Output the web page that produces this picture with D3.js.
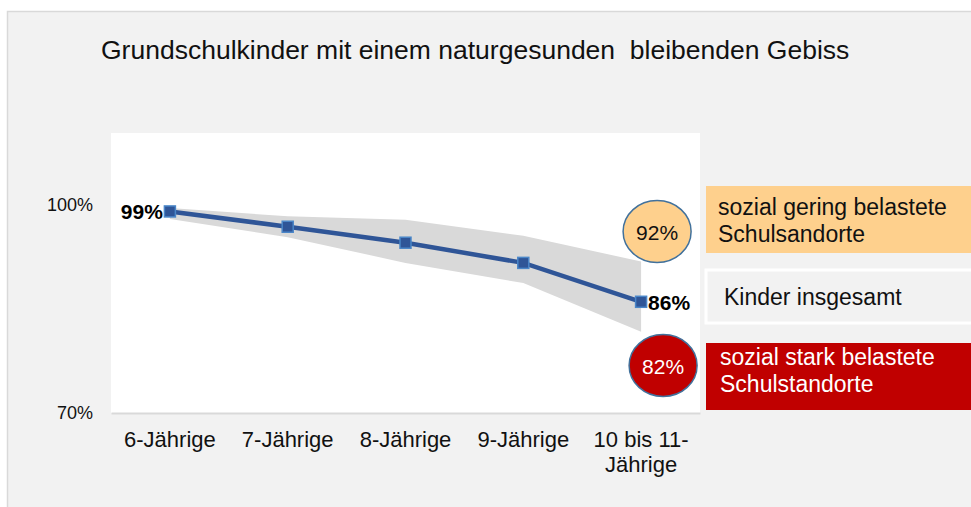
<html>
  <head>
    <meta charset="utf-8">
    <title>Grundschulkinder Gebiss</title>
    <script src="https://cdn.jsdelivr.net/npm/d3@7/dist/d3.min.js" charset="utf-8"></script>
    <style>
      body { margin: 0; background: #fff; }
      svg text { font-family: Arial, "Liberation Sans", sans-serif; }
    </style>
  </head>
  <body>
    <div id="main"></div>
  <script>
    // data
    var categories = ["6-Jährige", "7-Jährige", "8-Jährige", "9-Jährige", "10 bis 11-\nJährige"];
    var gesamt = [99, 96.8, 94.5, 91.6, 86];        // Kinder insgesamt
    var gering = [99.5, 98.3, 97.8, 95.5, 91.8];    // sozial gering belastete (upper edge of band)
    var stark  = [97.9, 95.3, 91.6, 88.7, 81.7];    // sozial stark belastete (lower edge of band)
    var yTicks = [70, 100];
    var endLabels = ["92%", "82%"];
    var legendGering = ["sozial gering belastete", "Schulsandorte"];
    var legendGesamt = ["Kinder insgesamt"];
    var legendStark = ["sozial stark belastete", "Schulstandorte"];
    var title = "Grundschulkinder mit einem naturgesunden  bleibenden Gebiss";

    var svgWidth = 971;
    var svgHeight = 507;

    var svg = d3.select("#main")
          .append("svg")
          .attr("width", svgWidth)
          .attr("height", svgHeight);

    // outer grey panel
    svg.append("rect")
      .attr("x", 7.5).attr("y", 11.5)
      .attr("width", svgWidth).attr("height", svgHeight)
      .style("fill", "#f2f2f2")
      .style("stroke", "#d9d9d9")
      .style("stroke-width", 1.5);

    svg.append("text")
      .attr("x", 101).attr("y", 59)
      .style("font-size", "26.5px")
      .style("fill", "#111")
      .style("white-space", "pre")
      .text(title);

    var x = d3.scaleBand().domain(categories).range([111, 700]);
    var y = d3.scaleLinear().domain([70, 110]).range([413, 135]);
    var cx = function(i) { return x(categories[i]) + x.bandwidth() / 2; };

    // plot area
    svg.append("rect")
      .attr("x", x.range()[0]).attr("y", y(110) - 2)
      .attr("width", x.range()[1] - x.range()[0])
      .attr("height", y(70) - y(110) + 2)
      .style("fill", "#fff");

    // band between the two school groups
    var area = d3.area()
      .x(function(d, i) { return cx(i); })
      .y0(function(d, i) { return y(stark[i]); })
      .y1(function(d) { return y(d); });

    svg.append("path")
      .datum(gering)
      .attr("d", area)
      .style("fill", "#d9d9d9");

    // axes
    var xAxis = svg.append("g")
      .attr("transform", "translate(0," + y(70) + ")")
      .call(d3.axisBottom(x).tickSize(0));
    xAxis.select(".domain").style("stroke", "#d9d9d9").style("stroke-width", 2);
    xAxis.selectAll(".tick text").each(function(d) {
      var t = d3.select(this).text(null).attr("dy", 0).attr("y", 0);
      d.split("\n").forEach(function(line, k) {
        t.append("tspan").attr("x", 0).attr("y", 34 + k * 25).text(line);
      });
    });
    xAxis.selectAll("text").style("font-size", "22px").style("fill", "#111");

    var yAxis = svg.append("g")
      .attr("transform", "translate(96,0)")
      .call(d3.axisLeft(y).tickValues(yTicks).tickSize(0)
        .tickFormat(function(d) { return d + "%"; }));
    yAxis.select(".domain").remove();
    yAxis.selectAll("text").style("font-size", "18px").style("fill", "#111");

    // main line
    var line = d3.line()
      .x(function(d, i) { return cx(i); })
      .y(function(d) { return y(d); });

    svg.append("path")
      .datum(gesamt)
      .attr("d", line)
      .style("fill", "none")
      .style("stroke", "#2f5597")
      .style("stroke-width", 4.5);

    svg.selectAll("rect.marker")
      .data(gesamt)
      .enter()
      .append("rect")
      .attr("class", "marker")
      .attr("x", function(d, i) { return cx(i) - 5.5; })
      .attr("y", function(d) { return y(d) - 5.5; })
      .attr("width", 11).attr("height", 11)
      .style("fill", "#2f5597")
      .style("stroke", "#4a86c8")
      .style("stroke-width", 1.5);

    var last = gesamt.length - 1;
    svg.append("text")
      .attr("x", cx(0) - 7).attr("y", y(gesamt[0]) + 8)
      .attr("text-anchor", "end")
      .style("font-size", "21px").style("font-weight", "bold")
      .text(Math.round(gesamt[0]) + "%");
    svg.append("text")
      .attr("x", cx(last) + 7).attr("y", y(gesamt[last]) + 8)
      .style("font-size", "21px").style("font-weight", "bold")
      .text(Math.round(gesamt[last]) + "%");

    // legend boxes on the right
    function legendBox(yTop, h, fill, stroke, lines, color, tx, baseline) {
      svg.append("rect")
        .attr("x", 706).attr("y", yTop)
        .attr("width", 280).attr("height", h)
        .style("fill", fill)
        .style("stroke", stroke)
        .style("stroke-width", stroke === "none" ? 0 : 3);
      lines.forEach(function(l, k) {
        svg.append("text")
          .attr("x", tx).attr("y", baseline + k * 27)
          .style("font-size", "23px")
          .style("fill", color)
          .text(l);
      });
    }
    legendBox(186, 67, "#fed08d", "none", legendGering, "#111", 718, 215);
    legendBox(270, 53, "#f2f2f2", "#fff", legendGesamt, "#111", 724, 305);
    legendBox(343, 67, "#c00000", "none", legendStark, "#fff", 720, 365);

    // callout ellipses
    var ell = [
      { cx: cx(last) + 16, cy: 231.5, fill: "#fed08d", color: "#111" },
      { cx: cx(last) + 22, cy: 365.5, fill: "#c00000", color: "#fff" }
    ];
    ell.forEach(function(e, i) {
      svg.append("ellipse")
        .attr("cx", e.cx).attr("cy", e.cy)
        .attr("rx", 34).attr("ry", 31)
        .style("fill", e.fill)
        .style("stroke", "#41719c")
        .style("stroke-width", 1.5);
      svg.append("text")
        .attr("x", e.cx).attr("y", e.cy + 8)
        .attr("text-anchor", "middle")
        .style("font-size", "21px")
        .style("fill", e.color)
        .text(endLabels[i]);
    });
  </script>
  </body>
</html>
